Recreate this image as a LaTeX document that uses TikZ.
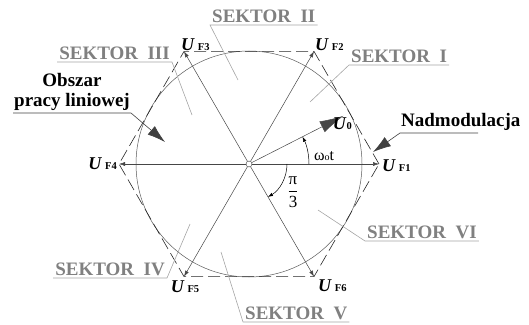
\documentclass[tikz,border=0pt]{standalone}
\usepackage{fontspec}
\setmainfont{Liberation Serif}
\usetikzlibrary{arrows.meta, calc, positioning}
\definecolor{szarySektor}{RGB}{128,128,128}
\definecolor{szaryLinia}{RGB}{165,165,165}
\definecolor{szaryWektor}{RGB}{70,70,70}
\newcommand{\wekF}[1]{\textbf{\textit{U}}\,{\fontsize{10.5}{11}\selectfont\bfseries F#1}}
\tikzset{
  hx/vec/.style={-{Latex[length=6pt,width=4pt]}, line width=0.5pt,
    draw=szaryWektor},
  hx/big/.style={-{Latex[length=24pt,width=12pt]}, line width=0.5pt,
    draw=szaryWektor},
  hx/bigarr/.style={-{Latex[length=18pt,width=11pt]}, line width=0.6pt,
    draw=black!75},
  hx/hex/.style={dash pattern=on 12pt off 5pt, line width=0.6pt,
    draw=black!85},
  hx/circ/.style={line width=0.5pt, draw=black!65},
  hx/sek/.style={font=\fontsize{19}{20}\selectfont\bfseries,
    text=szarySektor, inner xsep=2pt, inner ysep=2.5pt, text depth=0pt},
  hx/note/.style={font=\fontsize{19}{20}\selectfont\bfseries,
    align=center, inner xsep=1pt, inner ysep=2.5pt},
  hx/lead/.style={line width=0.6pt, draw=szaryLinia},
  hx/ulbl/.style={font=\fontsize{18}{18}\selectfont, inner sep=1pt},
  hx/kat/.style={-{Latex[length=5pt,width=3.5pt]}, line width=0.5pt}
}

\begin{document}
\begin{tikzpicture}[x=1pt, y=1pt]
  \useasboundingbox (0,0) rectangle (529,324);
  \coordinate (O) at (249,160);
  \foreach \k in {1,...,6}
    \coordinate (v\k) at ($(O)+({60*(\k-1)}:130)$);

  % okrag i szesciokat
  \draw[hx/circ] (O) circle (113);
  \draw[hx/hex] (v1) -- (v2) -- (v3) -- (v4) -- (v5) -- (v6) -- cycle;

  \node[circle, draw=black!80, fill=white, inner sep=0pt,
        minimum size=6pt] at (O) (o) {};
  \foreach \k in {1,...,6}
    \draw[hx/vec] (o) -- (v\k);

  % wektor U0 i katy
  \coordinate (u0) at ($(O)+(27:106)$);
  \draw[hx/big] (o) -- (u0);
  \draw[hx/kat] ($(O)+(0:60)$) arc[start angle=0, end angle=27, radius=60];
  \draw[hx/kat] ($(O)+(0:38)$) arc[start angle=0, end angle=-60, radius=38];

  \node[hx/ulbl, anchor=north] at ($(u0)+(-1,-1)$) (lU0)
        {\textbf{\textit{U}}{\fontsize{10.5}{11}\selectfont\bfseries 0}};
  \node[font=\fontsize{16}{16}\selectfont] at (324,168) (wt)
        {ω{\fontsize{10}{10}\selectfont o}t};
  \node[font=\fontsize{17}{17}\selectfont] at (293,132) (pi3)
        {$\displaystyle\frac{\mbox{π}}{\mbox{3}}$};

  % etykiety wektorow
  \node[hx/ulbl, anchor=west]       at ($(v1)+(2,-2)$)  (lF1) {\wekF{1}};
  \node[hx/ulbl, anchor=south west] at ($(v2)+(0,0)$)   (lF2) {\wekF{2}};
  \node[hx/ulbl, anchor=south west] at ($(v3)+(-4,0)$)  (lF3) {\wekF{3}};
  \node[hx/ulbl, anchor=east]       at ($(v4)+(-1,0)$)  (lF4) {\wekF{4}};
  \node[hx/ulbl, anchor=north]      at ($(v5)+(1,-3)$)  (lF5) {\wekF{5}};
  \node[hx/ulbl, anchor=north west] at ($(v6)+(3,-2)$)  (lF6) {\wekF{6}};

  % sektory
  \node[hx/sek, anchor=south west] at (349,259) (s1) {SEKTOR\ \ I};
  \node[hx/sek, anchor=south west] at (210,299) (s2) {SEKTOR\ \ II};
  \node[hx/sek, anchor=south east] at (172,262) (s3) {SEKTOR\ \ III};
  \node[hx/sek, anchor=south east] at (167,46)  (s4) {SEKTOR\ \ IV};
  \node[hx/sek, anchor=south west] at (243,2)   (s5) {SEKTOR\ \ V};
  \node[hx/sek, anchor=south west] at (365,83)  (s6) {SEKTOR\ \ VI};
  \coordinate (p1) at (310,222);
  \coordinate (p2) at (238,244);
  \coordinate (p3) at (192,209);
  \coordinate (p4) at (190,100);
  \coordinate (p5) at (221,72);
  \coordinate (p6) at (318,114);
  \draw[hx/lead] (s1.south east) -- (s1.south west) -- (p1);
  \draw[hx/lead] (s2.south east) -- (s2.south west) -- (p2);
  \draw[hx/lead] (s3.south west) -- (s3.south east) -- (p3);
  \draw[hx/lead] (s4.south west) -- (s4.south east) -- (p4);
  \draw[hx/lead] (s5.south east) -- (s5.south west) -- (p5);
  \draw[hx/lead] (s6.south east) -- (s6.south west) -- (p6);

  % opisy obszarow
  \node[hx/note, anchor=south] at (72,211) (obszar) {Obszar\\pracy liniowej};
  \node[hx/note, anchor=south west] at (400,191) (nadm) {Nadmodulacja};
  \coordinate (a1) at (165,182);
  \coordinate (a2) at (373,172);
  \draw[hx/bigarr] (obszar.south west) -- (obszar.south east) -- (a1);
  \draw[hx/bigarr] ($(nadm.south west)+(78,0)$) -- (nadm.south west) -- (a2);
\end{tikzpicture}
\end{document}
